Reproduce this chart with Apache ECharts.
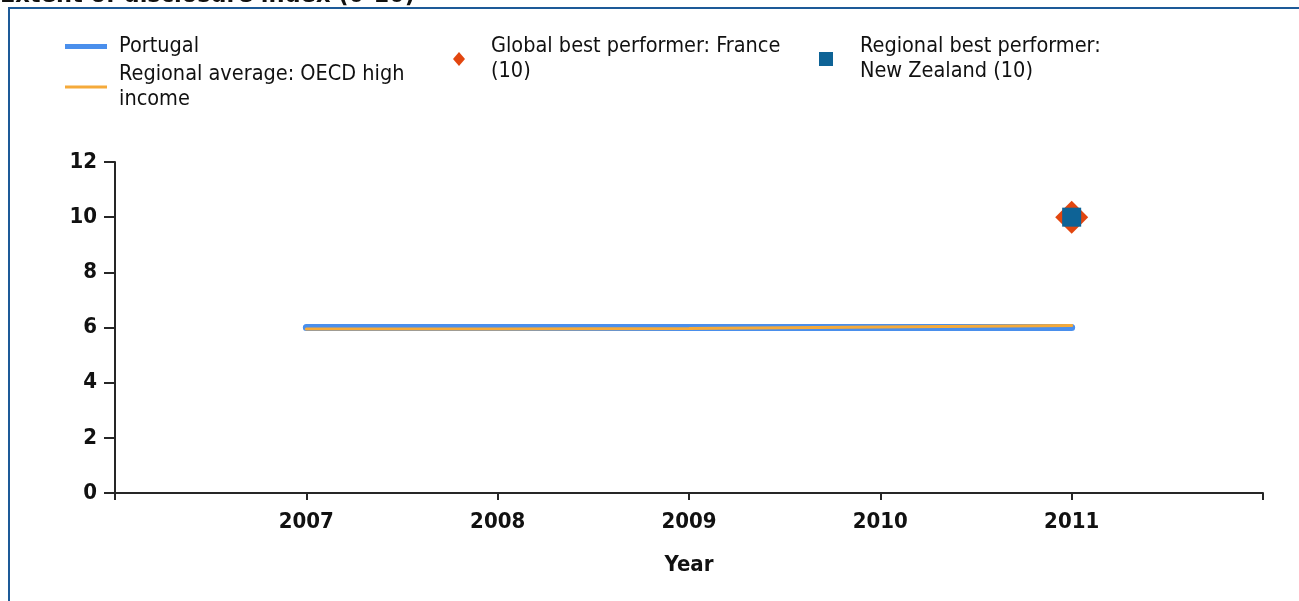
<!DOCTYPE html>
<html>
<head>
<meta charset="utf-8">
<title>Extent of disclosure index (0-10)</title>
<script src="https://cdn.jsdelivr.net/npm/echarts@6/dist/echarts.min.js"></script>
<style>
  html, body { margin: 0; padding: 0; background: #fff; }
  #chart { width: 1299px; height: 601px; }
</style>
</head>
<body>
<div id="chart"></div>
<script>
  // data
  var years = [2007, 2008, 2009, 2010, 2011]
  var portugal = [6, 6, 6, 6, 6]
  var regionalAvg = [5.95, 5.95, 5.96, 6.02, 6.07]
  var globalBest = [[2011, 10]]     // France
  var regionalBest = [[2011, 10]]   // New Zealand
  var yTicks = [0, 2, 4, 6, 8, 10, 12]

  var NAME_PT = 'Portugal'
  var NAME_AVG = 'Regional average: OECD high income'
  var NAME_GLOBAL = 'Global best performer: France (10)'
  var NAME_REGIONAL = 'Regional best performer: New Zealand (10)'

  // wrapped legend labels
  var legendLabels = {}
  legendLabels[NAME_PT] = 'Portugal'
  legendLabels[NAME_AVG] = 'Regional average: OECD high\nincome'
  legendLabels[NAME_GLOBAL] = 'Global best performer: France\n(10)'
  legendLabels[NAME_REGIONAL] = 'Regional best performer:\nNew Zealand (10)'

  var FONT = '"DejaVu Sans Condensed", "DejaVu Sans", sans-serif'

  function pairs(xs, ys) {
    return xs.map(function (x, i) { return [x, ys[i]] })
  }

  var legendText = {
    fontFamily: FONT,
    fontSize: 21.5,
    color: '#111',
    lineHeight: 25
  }

  function makeLegend(name, left, top, w, h, icon, pad) {
    return {
      data: [{ name: name, icon: icon }],
      left: left,
      top: top,
      itemWidth: w,
      itemHeight: h,
      padding: 0,
      selectedMode: false,
      formatter: function (n) { return legendLabels[n] },
      textStyle: Object.assign({ padding: [0, 0, 0, pad] }, legendText)
    }
  }

  var boldLabel = {
    fontFamily: FONT,
    fontWeight: 'bold',
    fontSize: 22,
    color: '#111'
  }

  var chart = echarts.init(document.getElementById('chart'))
  var option = {
    backgroundColor: '#fff',
    animation: false,
    graphic: [
      // frame of the panel
      {
        type: 'rect',
        shape: { x: 9, y: 8, width: 1400, height: 700 },
        style: { fill: 'none', stroke: '#1d5a98', lineWidth: 2 },
        silent: true
      },
      // title, mostly cut off by the top edge
      {
        type: 'text',
        x: 0,
        y: -5,
        style: {
          text: 'Extent of disclosure index (0-10)',
          font: 'bold 25px ' + FONT,
          fill: '#111',
          verticalAlign: 'middle'
        },
        silent: true
      }
    ],
    legend: [
      makeLegend(NAME_PT, 65, 34, 42, 5, 'rect', 7),
      makeLegend(NAME_AVG, 65, 62, 42, 3, 'rect', 7),
      makeLegend(NAME_GLOBAL, 453, 34, 12, 14, 'diamond', 21),
      makeLegend(NAME_REGIONAL, 819, 34, 14, 14, 'rect', 22)
    ],
    grid: {
      left: 115,
      right: 36,
      top: 162,
      bottom: 108
    },
    xAxis: {
      type: 'value',
      min: 2006,
      max: 2012,
      interval: 1,
      name: 'Year',
      nameLocation: 'middle',
      nameGap: 61,
      nameTextStyle: boldLabel,
      axisLine: { lineStyle: { color: '#262626', width: 2 } },
      axisTick: { length: 7, lineStyle: { color: '#262626', width: 2 } },
      splitLine: { show: false },
      axisLabel: Object.assign({
        margin: 18,
        formatter: function (v) {
          return years.indexOf(v) >= 0 ? String(v) : ''
        }
      }, boldLabel)
    },
    yAxis: {
      type: 'value',
      min: yTicks[0],
      max: yTicks[yTicks.length - 1],
      interval: 2,
      axisLine: { show: true, lineStyle: { color: '#262626', width: 2 } },
      axisTick: { show: true, length: 11, lineStyle: { color: '#262626', width: 2 } },
      splitLine: { show: false },
      axisLabel: Object.assign({ margin: 18 }, boldLabel)
    },
    series: [
      {
        name: NAME_PT,
        type: 'line',
        data: pairs(years, portugal),
        showSymbol: false,
        color: '#4a8fec',
        lineStyle: { width: 7, cap: 'round', color: '#4a8fec' },
        z: 2
      },
      {
        name: NAME_AVG,
        type: 'line',
        data: pairs(years, regionalAvg),
        showSymbol: false,
        color: '#f5aa3a',
        lineStyle: { width: 3, cap: 'round', color: '#f5aa3a' },
        z: 3
      },
      {
        name: NAME_GLOBAL,
        type: 'scatter',
        data: globalBest,
        symbol: 'diamond',
        symbolSize: 33,
        itemStyle: { color: '#e2460f', opacity: 1 },
        z: 4
      },
      {
        name: NAME_REGIONAL,
        type: 'scatter',
        data: regionalBest,
        symbol: 'rect',
        symbolSize: 19,
        itemStyle: { color: '#0e6396', opacity: 1 },
        z: 5
      }
    ]
  }
  chart.setOption(option)
</script>
</body>
</html>
